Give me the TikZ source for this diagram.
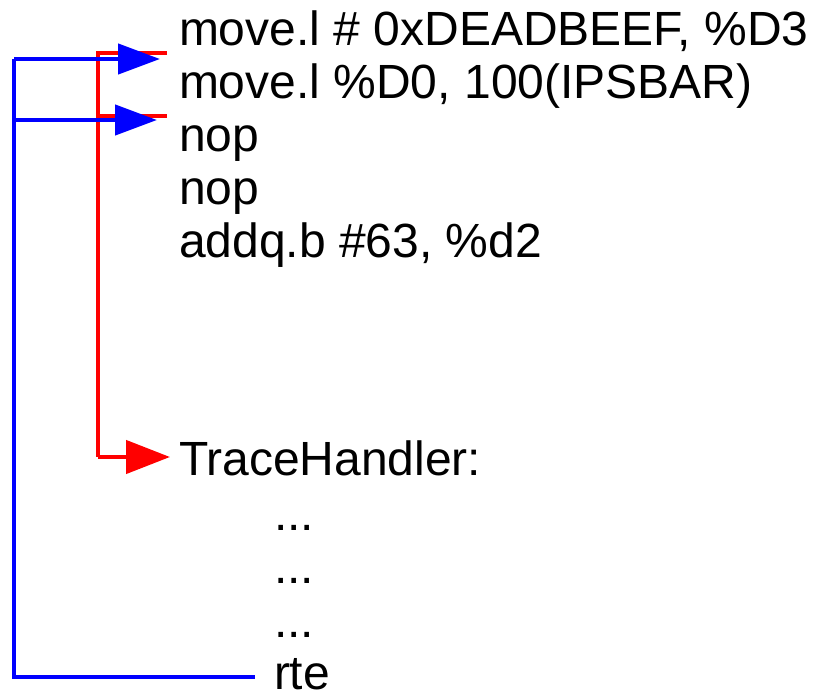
\documentclass[tikz,border=0pt]{standalone}
\usepackage{fontspec}
\setmainfont{Liberation Sans}
\usetikzlibrary{arrows.meta}

\begin{document}
\begin{tikzpicture}[x=1pt,y=-1pt,
  code/.style={anchor=base west,inner sep=0pt,outer sep=0pt,
    font=\fontsize{48}{53}\selectfont},
  redflow/.style={draw={rgb,255:red,255;green,0;blue,0},line width=4.5pt},
  blueflow/.style={draw={rgb,255:red,0;green,0;blue,255},line width=4.5pt},
  redtip/.style={-{Triangle[length=44pt,width=33pt]}},
  bluetip/.style={-{Triangle[length=42pt,width=30pt]}}]
\useasboundingbox (0,0) rectangle (818,692);

% listing
\node[code] (l1) at (179,46)  {move.l \# 0xDEADBEEF, \%D3};
\node[code] (l2) at (179,99)  {move.l \%D0, 100(IPSBAR)};
\node[code] (l3) at (179,152) {nop};
\node[code] (l4) at (179,205) {nop};
\node[code] (l5) at (179,258) {addq.b \#63, \%d2};
\node[code] (th) at (179,475) {TraceHandler:};
\node[code] (d1) at (274,530) {...};
\node[code] (d2) at (274,583) {...};
\node[code] (d3) at (274,637) {...};
\node[code] (rte) at (274,689) {rte};

% connector end points
\coordinate (r1) at (167,53);
\coordinate (r2) at (167,116);
\coordinate (rv1) at (98,53);
\coordinate (rv2) at (98,116);
\coordinate (rv3) at (98,457);
\coordinate (rt) at (170,457);
\coordinate (b1) at (160,59);
\coordinate (b2) at (157,120);
\coordinate (bv1) at (14,59);
\coordinate (bv2) at (14,120);
\coordinate (bv3) at (14,677);
\coordinate (be) at (255,677);

% trace exception path (red)
\draw[redflow,line join=miter] (r1) -- (rv1) -- (rv3);
\draw[redflow] (rv2) -- (r2);
\draw[redflow,redtip] (rv3) -- (rt);

% return path (blue)
\draw[blueflow,line join=miter] (bv1) -- (bv3) -- (be);
\draw[blueflow,bluetip] (bv1) -- (b1);
\draw[blueflow,bluetip] (bv2) -- (b2);
\end{tikzpicture}
\end{document}
